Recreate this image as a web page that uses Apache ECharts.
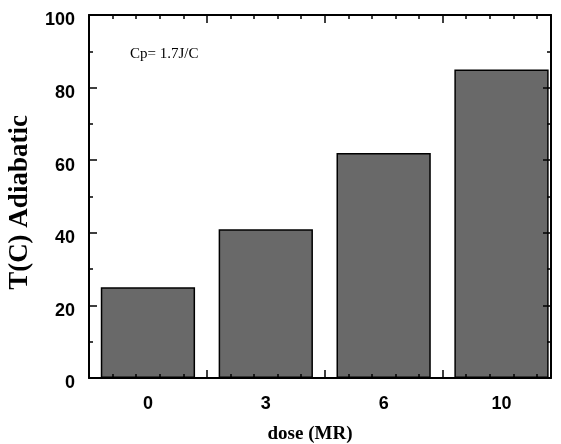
<!DOCTYPE html>
<html>
<head>
<meta charset="utf-8">
<script src="https://cdn.jsdelivr.net/npm/echarts@6/dist/echarts.min.js"></script>
<style>
html,body{margin:0;padding:0;background:#fff;}
#c{width:561px;height:444px;}
</style>
</head>
<body>
<div id="c"></div>
<script>
var categories = ["0", "3", "6", "10"];
var values = [25, 41, 62, 85];
var yTicks = [0, 20, 40, 60, 80, 100];
var annotation = "Cp= 1.7J/C";
var xName = "dose (MR)";
var yName = "T(C) Adiabatic";

var chart = echarts.init(document.getElementById('c'), null, {renderer: 'canvas'});
var XMAX = 3.92;
var sansBold = {fontFamily: 'Liberation Sans, Arial, sans-serif', fontWeight: 'bold', fontSize: 18, color: '#000'};
var serifBold = {fontFamily: 'Liberation Serif, Times New Roman, serif', fontWeight: 'bold', color: '#000'};

function frameAxis(pos, extra) {
  var a = {
    type: 'value', position: pos, min: 0, max: XMAX, interval: 1, z: 10,
    axisLine: {show: true, onZero: false, lineStyle: {color: '#000', width: 2}},
    axisTick: {show: true, inside: true, length: 8, lineStyle: {color: '#000', width: 1.5}},
    minorTick: {show: true, splitNumber: 5, length: 4, lineStyle: {color: '#000', width: 1.5}},
    axisLabel: {show: false},
    splitLine: {show: false}
  };
  return Object.assign(a, extra || {});
}

var option = {
  animation: false,
  backgroundColor: '#fff',
  grid: {left: 89, right: 10, top: 15, bottom: 66, containLabel: false, outerBoundsMode: 'none'},
  title: {
    text: annotation, left: 125, top: 42,
    textStyle: {fontFamily: 'Liberation Serif, Times New Roman, serif', fontWeight: 'normal', fontSize: 15, color: '#000'}
  },
  xAxis: [
    frameAxis('bottom', {
      name: xName, nameLocation: 'middle', nameGap: 47,
      nameTextStyle: Object.assign({fontSize: 19, padding: [0, 20, 0, 0]}, serifBold)
    }),
    frameAxis('top'),
    {
      type: 'value', position: 'bottom', min: 0, max: XMAX, interval: 0.5,
      axisLine: {show: false}, axisTick: {show: false}, splitLine: {show: false},
      axisLabel: Object.assign({
        show: true, margin: 17,
        showMinLabel: false, showMaxLabel: false,
        formatter: function (v) {
          var i = Math.floor(v);
          if (Math.abs(v - i - 0.5) < 1e-6 && i < categories.length) return categories[i];
          return '';
        }
      }, sansBold)
    }
  ],
  yAxis: [
    {
      type: 'value', position: 'left', min: yTicks[0], max: yTicks[yTicks.length - 1], interval: 20, z: 10,
      axisLine: {show: true, onZero: false, lineStyle: {color: '#000', width: 2}},
      axisTick: {show: true, inside: true, length: 8, lineStyle: {color: '#000', width: 1.5}},
      minorTick: {show: true, splitNumber: 2, length: 4, lineStyle: {color: '#000', width: 1.5}},
      axisLabel: Object.assign({show: true, margin: 14, verticalAlign: 'top', lineHeight: 11}, sansBold),
      splitLine: {show: false},
      name: yName, nameLocation: 'middle', nameGap: 55, nameRotate: 90,
      nameTextStyle: Object.assign({fontSize: 27, padding: [0, 12, 0, 0]}, serifBold)
    },
    {
      type: 'value', position: 'right', min: yTicks[0], max: yTicks[yTicks.length - 1], interval: 20, z: 10,
      axisLine: {show: true, onZero: false, lineStyle: {color: '#000', width: 2}},
      axisTick: {show: true, inside: true, length: 8, lineStyle: {color: '#000', width: 1.5}},
      minorTick: {show: true, splitNumber: 2, length: 4, lineStyle: {color: '#000', width: 1.5}},
      axisLabel: {show: false},
      splitLine: {show: false}
    }
  ],
  series: [{
    type: 'bar',
    xAxisIndex: 0, yAxisIndex: 0,
    barWidth: '80%',
    data: categories.map(function (c, i) { return [i + 0.5, values[i]]; }),
    itemStyle: {color: '#696969', borderColor: '#000', borderWidth: 1.5}
  }]
};
chart.setOption(option);
</script>
</body>
</html>
